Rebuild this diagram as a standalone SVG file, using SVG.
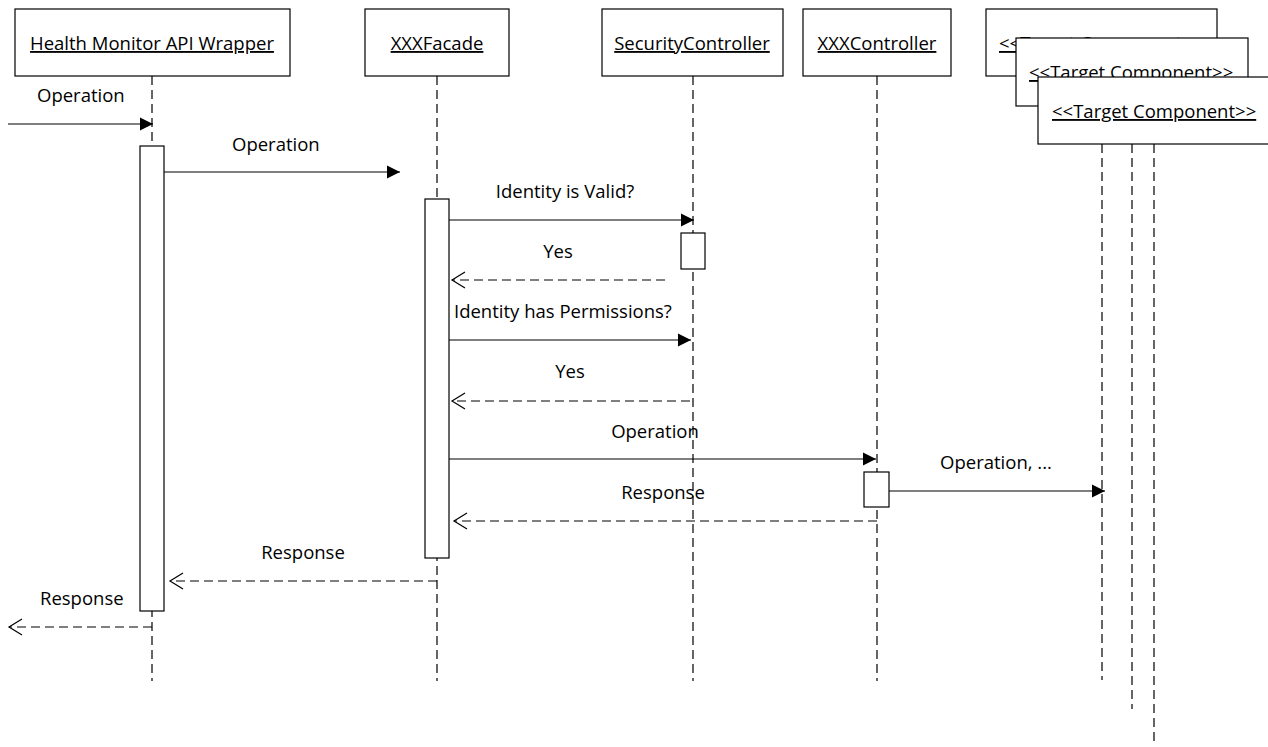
<svg xmlns="http://www.w3.org/2000/svg" width="1268" height="747" viewBox="0 0 1268 747">
  <defs>
    <style>
      .box { fill: #fff; stroke: #000; stroke-width: 1.2; }
      .act { fill: #fff; stroke: #000; stroke-width: 1.2; }
      .life { stroke: #000; stroke-width: 1.2; stroke-dasharray: 9 5; fill: none; }
      .msg { stroke: #000; stroke-width: 1.2; fill: none; }
      .ret { stroke: #000; stroke-width: 1.2; stroke-dasharray: 9 5; fill: none; }
      .title { font-family: "Open Sans", "Liberation Sans", sans-serif; font-size: 18.5px; fill: #000; text-decoration: underline; }
      .lbl { font-family: "Open Sans", "Liberation Sans", sans-serif; font-size: 18.5px; fill: #000; }
    </style>
    <marker id="filled" markerWidth="14" markerHeight="14" refX="13" refY="7" orient="auto" markerUnits="userSpaceOnUse">
      <path d="M0,0.5 L13,7 L0,13.5 Z" fill="#000"/>
    </marker>
    <marker id="open" markerWidth="16" markerHeight="18" refX="14" refY="9" orient="auto" markerUnits="userSpaceOnUse">
      <path d="M1,1 L14,9 L1,17" fill="none" stroke="#000" stroke-width="1.2"/>
    </marker>
  </defs>
  <rect width="1268" height="747" fill="#fff"/>

  <!-- lifelines -->
  <g id="lifelines">
    <line class="life" x1="152" y1="76" x2="152" y2="681"/>
    <line class="life" x1="437" y1="76" x2="437" y2="681"/>
    <line class="life" x1="693" y1="76" x2="693" y2="681"/>
    <line class="life" x1="877" y1="76" x2="877" y2="681"/>
    <line class="life" x1="1102" y1="144" x2="1102" y2="680"/>
    <line class="life" x1="1132" y1="144" x2="1132" y2="709"/>
    <line class="life" x1="1154" y1="144" x2="1154" y2="746"/>
  </g>

  <!-- participants -->
  <g id="health-monitor">
    <rect class="box" x="15" y="9" width="275" height="67"/>
    <text class="title" x="152" y="50" text-anchor="middle">Health Monitor API Wrapper</text>
  </g>
  <g id="xxx-facade">
    <rect class="box" x="365" y="9" width="144" height="67"/>
    <text class="title" x="437" y="50" text-anchor="middle">XXXFacade</text>
  </g>
  <g id="security-controller">
    <rect class="box" x="602" y="9" width="181" height="67"/>
    <text class="title" x="692" y="50" text-anchor="middle">SecurityController</text>
  </g>
  <g id="xxx-controller">
    <rect class="box" x="803" y="9" width="148" height="67"/>
    <text class="title" x="877" y="50" text-anchor="middle">XXXController</text>
  </g>
  <g id="target-component-1">
    <rect class="box" x="986" y="9" width="231" height="67"/>
    <text class="title" x="999" y="50">&lt;&lt;Target Component&gt;&gt;</text>
  </g>
  <g id="target-component-2">
    <rect class="box" x="1016" y="38" width="232" height="68"/>
    <text class="title" x="1029" y="79">&lt;&lt;Target Component&gt;&gt;</text>
  </g>
  <g id="target-component-3">
    <rect class="box" x="1038" y="77" width="240" height="67"/>
    <text class="title" x="1052" y="118">&lt;&lt;Target Component&gt;&gt;</text>
  </g>

  <!-- activation bars -->
  <g id="activations">
    <rect class="act" x="140" y="146" width="24" height="465"/>
    <rect class="act" x="425" y="199" width="24" height="359"/>
    <rect class="act" x="681" y="233" width="24" height="36"/>
    <rect class="act" x="864" y="472" width="25" height="35"/>
  </g>

  <!-- messages -->
  <g id="connectors">
    <line class="msg" x1="8" y1="124" x2="153" y2="124" marker-end="url(#filled)"/>
    <line class="msg" x1="164" y1="172" x2="400" y2="172" marker-end="url(#filled)"/>
    <line class="msg" x1="449" y1="220" x2="694" y2="220" marker-end="url(#filled)"/>
    <line class="ret" x1="665" y1="280" x2="452" y2="280" marker-end="url(#open)"/>
    <line class="msg" x1="449" y1="340" x2="691" y2="340" marker-end="url(#filled)"/>
    <line class="ret" x1="690" y1="401" x2="452" y2="401" marker-end="url(#open)"/>
    <line class="msg" x1="449" y1="459" x2="876" y2="459" marker-end="url(#filled)"/>
    <line class="ret" x1="877" y1="521" x2="454" y2="521" marker-end="url(#open)"/>
    <line class="msg" x1="889" y1="491" x2="1105" y2="491" marker-end="url(#filled)"/>
    <line class="ret" x1="437" y1="581" x2="170" y2="581" marker-end="url(#open)"/>
    <line class="ret" x1="152" y1="627" x2="9" y2="627" marker-end="url(#open)"/>
  </g>

  <!-- message labels -->
  <g id="labels">
    <text class="lbl" x="37" y="102">Operation</text>
    <text class="lbl" x="232" y="151">Operation</text>
    <text class="lbl" x="565" y="198" text-anchor="middle">Identity is Valid?</text>
    <text class="lbl" x="558" y="258" text-anchor="middle">Yes</text>
    <text class="lbl" x="454" y="318">Identity has Permissions?</text>
    <text class="lbl" x="570" y="378" text-anchor="middle">Yes</text>
    <text class="lbl" x="655" y="438" text-anchor="middle">Operation</text>
    <text class="lbl" x="663" y="499" text-anchor="middle">Response</text>
    <text class="lbl" x="996" y="469" text-anchor="middle">Operation, ...</text>
    <text class="lbl" x="303" y="559" text-anchor="middle">Response</text>
    <text class="lbl" x="40" y="605">Response</text>
  </g>
</svg>
